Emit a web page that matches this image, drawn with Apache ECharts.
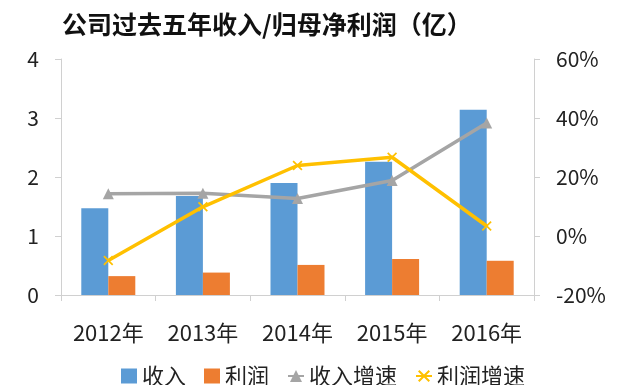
<!DOCTYPE html>
<html><head><meta charset="utf-8">
<script src="https://cdn.jsdelivr.net/npm/echarts@6/dist/echarts.min.js"></script>
<style>html,body{margin:0;padding:0;background:#fff}#c{width:617px;height:385px}</style>
</head><body><div id="c"></div>
<script>
var categories = ['2012年','2013年','2014年','2015年','2016年'];
var revenue = [1.47, 1.68, 1.90, 2.26, 3.14];
var profit = [0.32, 0.38, 0.51, 0.61, 0.58];
var revenueGrowth = [14.3, 14.5, 12.7, 18.8, 38.3];
var profitGrowth = [-8.3, 9.9, 23.9, 26.7, 3.4];
var leftTicks = [0, 1, 2, 3, 4];
var rightTicks = [-20, 0, 20, 40, 60];

var font = '"Noto Sans CJK SC", "Noto Sans", sans-serif';
var xPath = 'path://M0,1.2L1.2,0L5,3.8L8.8,0L10,1.2L6.2,5L10,8.8L8.8,10L5,6.2L1.2,10L0,8.8L3.8,5Z';
var chart = echarts.init(document.getElementById('c'));
chart.setOption({
  animation: false,
  backgroundColor: '#fff',
  textStyle: { fontFamily: font },
  title: {
    text: '公司过去五年收入/归母净利润（亿）',
    left: 57, top: 7,
    textStyle: { fontSize: 25, fontWeight: 'bold', color: '#111', fontFamily: font }
  },
  legend: {
    left: 116, top: 360,
    itemGap: 18, itemWidth: 16, itemHeight: 15,
    textStyle: { fontSize: 22, color: '#222', fontFamily: font },
    data: [
      { name: '收入', icon: 'rect' },
      { name: '利润', icon: 'rect' },
      { name: '收入增速' },
      { name: '利润增速' }
    ]
  },
  grid: { left: 61, right: 83, top: 59, bottom: 90 },
  xAxis: {
    type: 'category', data: categories,
    axisLine: { lineStyle: { color: '#d0d0d0', width: 1 } },
    axisTick: { show: true, length: 6, lineStyle: { color: '#d0d0d0' } },
    axisLabel: { fontSize: 22, color: '#222', margin: 27, fontFamily: font }
  },
  yAxis: [
    {
      type: 'value', min: 0, max: 4, interval: 1,
      axisLine: { show: true, lineStyle: { color: '#d0d0d0' } },
      axisTick: { show: true, length: 6, lineStyle: { color: '#d0d0d0' } },
      splitLine: { show: false },
      axisLabel: { fontSize: 21, color: '#222', margin: 22, fontFamily: font,
        formatter: function (v) { return leftTicks.indexOf(v) >= 0 ? String(v) : ''; } }
    },
    {
      type: 'value', min: -20, max: 60, interval: 20,
      axisLine: { show: true, lineStyle: { color: '#d0d0d0' } },
      axisTick: { show: true, length: 6, lineStyle: { color: '#d0d0d0' } },
      splitLine: { show: false },
      axisLabel: { fontSize: 21, color: '#222', margin: 22, fontFamily: font,
        formatter: function (v) { return rightTicks.indexOf(v) >= 0 ? v + '%' : ''; } }
    }
  ],
  series: [
    { name: '收入', type: 'bar', data: revenue, barWidth: 27, barGap: '0%',
      itemStyle: { color: '#5b9bd5' } },
    { name: '利润', type: 'bar', data: profit, barWidth: 27, barGap: '0%',
      itemStyle: { color: '#ed7d31' } },
    { name: '收入增速', type: 'line', yAxisIndex: 1, data: revenueGrowth,
      symbol: 'triangle', symbolSize: 11, showSymbol: true,
      lineStyle: { color: '#a5a5a5', width: 3.5 }, itemStyle: { color: '#a5a5a5' } },
    { name: '利润增速', type: 'line', yAxisIndex: 1, data: profitGrowth,
      symbol: xPath, symbolSize: 10, showSymbol: true,
      lineStyle: { color: '#ffc000', width: 3.5 }, itemStyle: { color: '#ffc000' } }
  ]
});
</script></body></html>
